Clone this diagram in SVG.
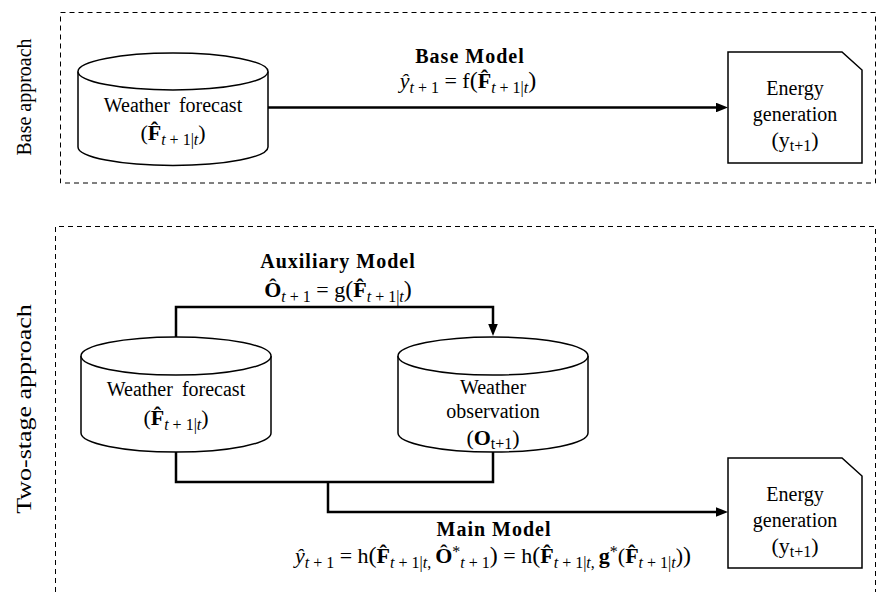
<svg xmlns="http://www.w3.org/2000/svg" width="877" height="592" viewBox="0 0 877 592">
<defs>
<style>
.frame{fill:none;stroke:#000;stroke-width:1;stroke-dasharray:5 4}
.shape{fill:#fff;stroke:#000;stroke-width:1.5}
.conn{fill:none;stroke:#000;stroke-width:2.5}
.t{font-family:"Liberation Serif","Times New Roman",serif;font-size:20px;fill:#000}
.lbl{font-family:"Liberation Serif","Times New Roman",serif;font-size:20px;font-weight:bold;letter-spacing:1px;fill:#000}
.math{font-family:"Liberation Serif","Times New Roman",serif;font-size:22px;fill:#000}
.i{font-style:italic}
.b{font-weight:bold}
.s{font-size:16px}
.p{font-size:24px}
</style>
<marker id="arr" viewBox="0 0 10 8" refX="5" refY="4" markerWidth="12" markerHeight="9.6" markerUnits="userSpaceOnUse" orient="auto">
<path d="M0,0 L10,4 L0,8 Z" fill="#000"/>
</marker>
</defs>
<rect width="877" height="592" fill="#fff"/>

<g id="section-base">
<rect class="frame" x="60.5" y="12.5" width="815" height="170.5"/>
<text class="t" transform="translate(31,97) rotate(-90)" text-anchor="middle">Base approach</text>
</g>
<g id="section-two-stage">
<path class="frame" d="M55.5,592 V226.5 H875.5 V592"/>
<text class="t" transform="translate(31,409) rotate(-90) scale(1.3,1)" text-anchor="middle">Two-stage approach</text>
</g>

<g id="connectors">
<path class="conn" d="M268,107.5 H722" marker-end="url(#arr)"/>
<path class="conn" d="M176,337 V307 H493 V330" marker-end="url(#arr)"/>
<path class="conn" d="M176,452 V482 H493 V452"/>
<path class="conn" d="M328,482 V512 H722" marker-end="url(#arr)"/>
</g>

<g id="labels">
<text class="lbl" x="470" y="63" text-anchor="middle">Base Model</text>
<text class="math" x="468" y="88" text-anchor="middle"><tspan class="i">ŷ</tspan><tspan class="s" dy="5"><tspan class="i">t</tspan> + 1</tspan><tspan dy="-5"> = f</tspan><tspan class="p">(</tspan><tspan class="b">F̂</tspan><tspan class="s" dy="5"><tspan class="i">t</tspan> + 1|<tspan class="i">t</tspan></tspan><tspan class="p" dy="-5">)</tspan></text>
<text class="lbl" x="338" y="268" text-anchor="middle">Auxiliary Model</text>
<text class="math" x="338" y="297" text-anchor="middle"><tspan class="b">Ô</tspan><tspan class="s" dy="5"><tspan class="i">t</tspan> + 1</tspan><tspan dy="-5"> = g</tspan><tspan class="p">(</tspan><tspan class="b">F̂</tspan><tspan class="s" dy="5"><tspan class="i">t</tspan> + 1|<tspan class="i">t</tspan></tspan><tspan class="p" dy="-5">)</tspan></text>
<text class="lbl" x="494" y="536" text-anchor="middle">Main Model</text>
<text class="math" x="493" y="563" text-anchor="middle"><tspan class="i">ŷ</tspan><tspan class="s" dy="5"><tspan class="i">t</tspan> + 1</tspan><tspan dy="-5"> = h</tspan><tspan class="p">(</tspan><tspan class="b">F̂</tspan><tspan class="s" dy="5"><tspan class="i">t</tspan> + 1|<tspan class="i">t</tspan>, </tspan><tspan class="b" dy="-5">Ô</tspan><tspan class="s" dy="-6">*</tspan><tspan class="s" dy="11"><tspan class="i">t</tspan> + 1</tspan><tspan class="p" dy="-5">)</tspan><tspan> = h</tspan><tspan class="p">(</tspan><tspan class="b">F̂</tspan><tspan class="s" dy="5"><tspan class="i">t</tspan> + 1|<tspan class="i">t</tspan>, </tspan><tspan class="b" dy="-5">g</tspan><tspan class="s" dy="-6">*</tspan><tspan dy="6">(</tspan><tspan class="b">F̂</tspan><tspan class="s" dy="5"><tspan class="i">t</tspan> + 1|<tspan class="i">t</tspan></tspan><tspan dy="-5">)</tspan><tspan class="p">)</tspan></text>
</g>

<g id="wf-base">
<path class="shape" d="M78,71.5 V147 A95,18.5 0 0 0 268,147 V71.5"/>
<ellipse class="shape" cx="173" cy="71.5" rx="95" ry="18.5"/>
<text class="t" x="173" y="112" text-anchor="middle" word-spacing="4">Weather forecast</text>
<text class="math" x="173" y="140" text-anchor="middle">(<tspan class="b">F̂</tspan><tspan class="s" dy="5"><tspan class="i">t</tspan> + 1|<tspan class="i">t</tspan></tspan><tspan dy="-5">)</tspan></text>
</g>

<g id="eg-base">
<path class="shape" d="M728,52 H842 L862,70 V163 H728 Z"/>
<text class="t" x="795" y="95" text-anchor="middle">Energy</text>
<text class="t" x="795" y="121" text-anchor="middle">generation</text>
<text class="math" x="795" y="147" text-anchor="middle">(y<tspan class="s" dy="4">t+1</tspan><tspan dy="-4">)</tspan></text>
</g>

<g id="wf-two">
<path class="shape" d="M81,356 V433 A95,19 0 0 0 271,433 V356"/>
<ellipse class="shape" cx="176" cy="356" rx="95" ry="19"/>
<text class="t" x="176" y="396" text-anchor="middle" word-spacing="4">Weather forecast</text>
<text class="math" x="176" y="425" text-anchor="middle">(<tspan class="b">F̂</tspan><tspan class="s" dy="5"><tspan class="i">t</tspan> + 1|<tspan class="i">t</tspan></tspan><tspan dy="-5">)</tspan></text>
</g>

<g id="wo-two">
<path class="shape" d="M398,356 V433 A95,19 0 0 0 588,433 V356"/>
<ellipse class="shape" cx="493" cy="356" rx="95" ry="19"/>
<text class="t" x="493" y="394" text-anchor="middle">Weather</text>
<text class="t" x="493" y="418" text-anchor="middle">observation</text>
<text class="math" x="493" y="445" text-anchor="middle">(<tspan class="b">O</tspan><tspan class="s" dy="4">t+1</tspan><tspan dy="-4">)</tspan></text>
</g>

<g id="eg-two">
<path class="shape" d="M728,458 H842 L862,476 V568 H728 Z"/>
<text class="t" x="795" y="501" text-anchor="middle">Energy</text>
<text class="t" x="795" y="527" text-anchor="middle">generation</text>
<text class="math" x="795" y="553" text-anchor="middle">(y<tspan class="s" dy="4">t+1</tspan><tspan dy="-4">)</tspan></text>
</g>
</svg>
